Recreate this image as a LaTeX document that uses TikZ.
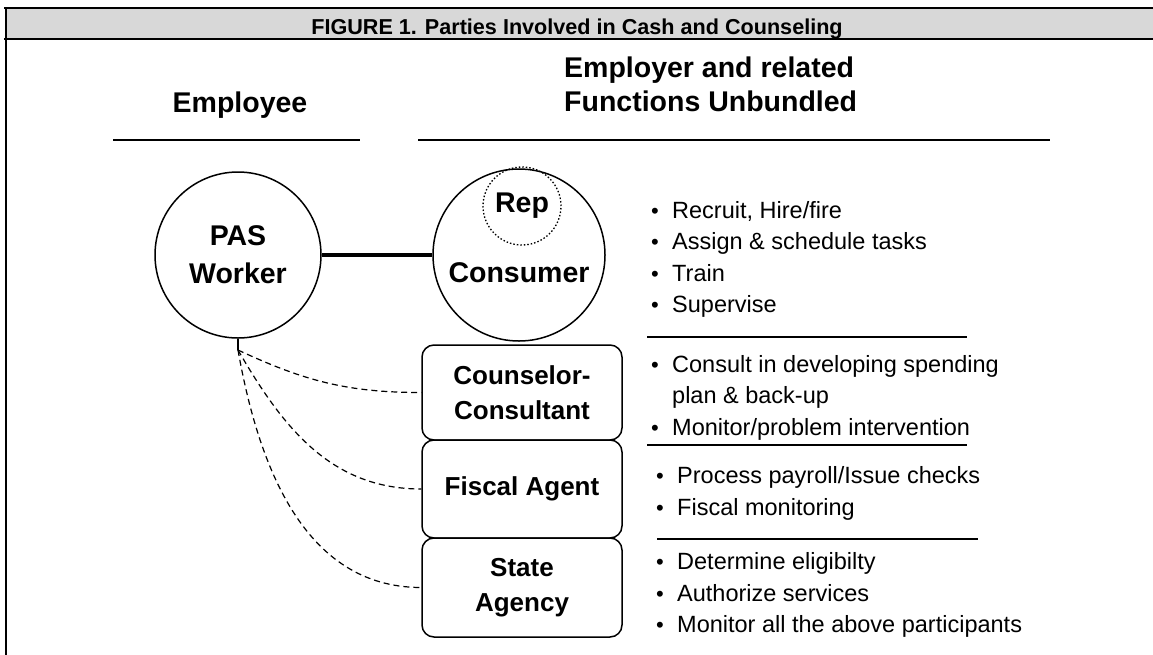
\documentclass[tikz,border=0pt]{standalone}
\usepackage{fontspec}
\setmainfont{Liberation Sans}
\definecolor{titlegray}{RGB}{216,216,216}
\begin{document}
\begin{tikzpicture}[x=1pt,y=-1pt,
  hd/.style={font=\fontsize{28.5}{34}\selectfont\bfseries, inner sep=0pt, anchor=base},
  lbl/.style={font=\fontsize{26}{35}\selectfont\bfseries, align=center, inner sep=0pt},
  big/.style={font=\fontsize{28.5}{38}\selectfont\bfseries, align=center, inner sep=0pt},
  li/.style={font=\fontsize{23.5}{31}\selectfont, inner sep=0pt, anchor=base west},
  bul/.style={font=\fontsize{22}{31}\selectfont, inner sep=0pt, anchor=base},
  box/.style={draw, line width=1.5pt, rounded corners=12pt, minimum width=200pt, inner sep=0pt, lbl},
  ring/.style={circle, draw, line width=1.5pt, inner sep=0pt},
  link/.style={dash pattern=on 6pt off 4pt, line width=1.2pt},
  rule/.style={line width=1.5pt}]
\useasboundingbox (0,0) rectangle (1153,654);
% title bar and frame
\fill[titlegray] (5,8) rectangle (1160,39);
\draw[line width=2.4pt] (4,8) -- (1160,8);
\draw[line width=2.4pt] (4,39) -- (1160,39);
\draw[line width=2pt] (5.5,7) -- (5.5,660);
\node[font=\fontsize{21.6}{24}\selectfont\bfseries, inner sep=0pt, anchor=base] (title) at (577,34) {FIGURE 1. Parties Involved in Cash and Counseling};
% headings
\node[hd] (emp) at (240,112) {Employee};
\node[hd, anchor=base west] (er1) at (564,77) {Employer and related};
\node[hd, anchor=base west] (er2) at (564,111) {Functions Unbundled};
\draw[rule] (113,140) -- (360,140);
\draw[rule] (418,140) -- (1050,140);
% circles
\node[ring, minimum size=166pt, big] (pas) at (238,255) {PAS\\Worker};
\node[ring, minimum size=172pt] (con) at (519,255) {};
\node[ring, dash pattern=on 1.5pt off 2pt, line width=1.3pt, minimum size=78pt, big] (rep) at (522,206) {Rep};
\node[big, anchor=base] (conl) at (519,282) {Consumer};
\draw[line width=4pt] (pas.east) -- (con.west);
% boxes
\node[box, minimum height=95pt] (cc) at (522,392.5) {Counselor-\\Consultant};
\node[box, minimum height=98pt] (fa) at (522,489) {Fiscal Agent};
\node[box, minimum height=99pt] (sa) at (522,587.5) {State\\Agency};
% dashed links
\coordinate (hub) at (238,350);
\draw[line width=1.3pt] (pas.south) -- (hub);
\draw[link] (hub) to[out=-25,in=180] (cc.west);
\draw[link] (hub) to[out=-60,in=180] (fa.west);
\draw[link] (hub) to[out=-80,in=180] (sa.west);
% lists
\node[bul] (b1) at (655,218) {•}; \node[li] (t1) at (672,218) {Recruit, Hire/fire};
\node[bul] (b2) at (655,249) {•}; \node[li] (t2) at (672,249) {Assign \& schedule tasks};
\node[bul] (b3) at (655,281) {•}; \node[li] (t3) at (672,281) {Train};
\node[bul] (b4) at (655,312) {•}; \node[li] (t4) at (672,312) {Supervise};
\draw[rule] (647,337) -- (967,337);
\node[bul] (b5) at (655,372) {•}; \node[li] (t5) at (672,372) {Consult in developing spending};
\node[li] (t6) at (672,403) {plan \& back-up};
\node[bul] (b7) at (655,435) {•}; \node[li] (t7) at (672,435) {Monitor/problem intervention};
\draw[rule] (647,445) -- (967,445);
\node[bul] (b8) at (660,483) {•}; \node[li] (t8) at (677,483) {Process payroll/Issue checks};
\node[bul] (b9) at (660,515) {•}; \node[li] (t9) at (677,515) {Fiscal monitoring};
\draw[rule] (657,539) -- (978,539);
\node[bul] (b10) at (660,569) {•}; \node[li] (t10) at (677,569) {Determine eligibilty};
\node[bul] (b11) at (660,601) {•}; \node[li] (t11) at (677,601) {Authorize services};
\node[bul] (b12) at (660,632) {•}; \node[li] (t12) at (677,632) {Monitor all the above participants};
\end{tikzpicture}
\end{document}
